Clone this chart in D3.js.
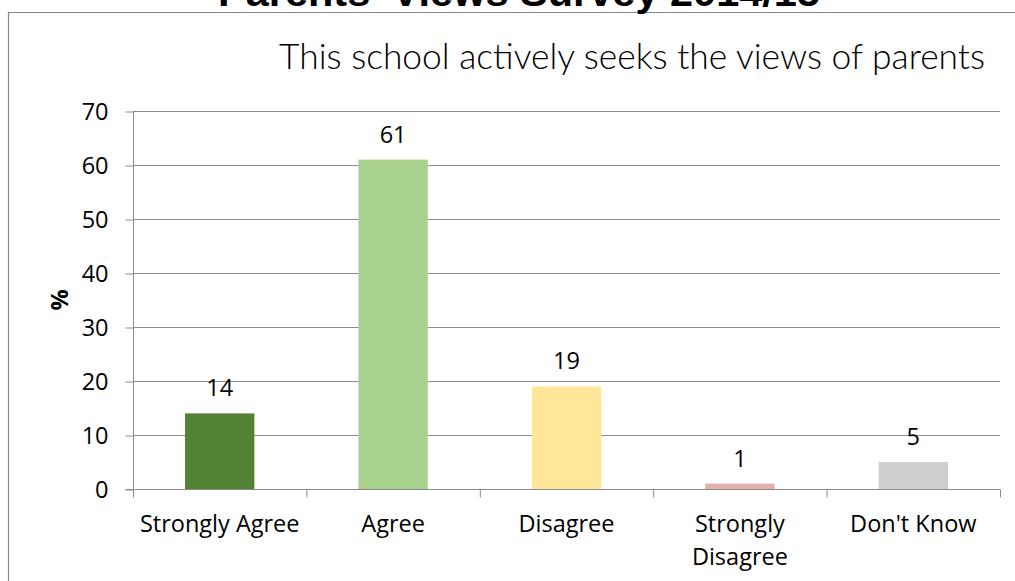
<!DOCTYPE html>
<html><head><meta charset="utf-8">
<script src="https://cdn.jsdelivr.net/npm/d3@7"></script>
<style>html,body{margin:0;padding:0;background:#fff;overflow:hidden}</style>
</head><body>
<svg id="c" width="1015" height="581"></svg>
<script>
const categories = ["Strongly Agree", "Agree", "Disagree", "Strongly Disagree", "Don't Know"];
const values = [14, 61, 19, 1, 5];
const colors = ["#548235", "#A9D18E", "#FFE699", "#E6AFAF", "#D0CECE"];
const yTicks = [0, 10, 20, 30, 40, 50, 60, 70];
const title = "Parents' Views Survey 2014/15";
const subtitle = "This school actively seeks the views of parents";
const yLabel = "%";

const svg = d3.select("#c");
const font = "Open Sans, Lato, sans-serif";
const fs = 23.5;

// outer border
svg.append("path").attr("d", "M8.5,600 V12.5 H1030").attr("fill", "none").attr("stroke", "#888").attr("stroke-width", 1.2);

svg.append("text").attr("x", 218).attr("y", 6).attr("font-family", "Liberation Sans, sans-serif")
  .attr("font-weight", "bold").attr("font-size", 38).attr("textLength", 602).attr("lengthAdjust", "spacingAndGlyphs")
  .attr("fill", "#000").text(title);

svg.append("text").attr("x", 279).attr("y", 69).attr("font-family", "Lato, Inter, sans-serif")
  .attr("font-weight", 300).attr("font-size", 36).attr("textLength", 706).attr("lengthAdjust", "spacingAndGlyphs")
  .attr("fill", "#000").text(subtitle);

const x = d3.scaleBand().domain(categories).range([133, 1000]).paddingInner(0).paddingOuter(0);
const y = d3.scaleLinear().domain([0, 70]).range([489, 111]);

// gridlines
svg.append("g").selectAll("line").data(yTicks.filter(d => d > 0)).join("line")
  .attr("x1", 133).attr("x2", 1000).attr("y1", d => Math.round(y(d)) + 0.5).attr("y2", d => Math.round(y(d)) + 0.5)
  .attr("stroke", "#8c8c8c").attr("stroke-width", 1);

// y axis
const yAxis = svg.append("g").attr("transform", "translate(133.5,0.5)")
  .call(d3.axisLeft(y).tickValues(yTicks).tickSize(8).tickPadding(17).tickFormat(d3.format("d")));
yAxis.select(".domain").attr("stroke", "#8c8c8c").attr("d", `M0,${y(70)}V${y(0)}`);
yAxis.selectAll(".tick line").attr("stroke", "#8c8c8c");
yAxis.selectAll("text").attr("font-family", font).attr("font-size", fs).attr("fill", "#000");

// bars
const bw = x.bandwidth() * 0.4;
svg.append("g").selectAll("rect").data(values).join("rect")
  .attr("x", (d, i) => x(categories[i]) + (x.bandwidth() - bw) / 2)
  .attr("width", bw)
  .attr("y", d => y(d)).attr("height", d => y(0) - y(d))
  .attr("fill", (d, i) => colors[i]);

// x axis
const xAxis = svg.append("g").attr("transform", `translate(0.5,${y(0) + 0.5})`);
xAxis.append("line").attr("x1", 125).attr("x2", 1000).attr("stroke", "#8c8c8c");
const bounds = categories.map(c => x(c)).concat([x.range()[1]]);
xAxis.selectAll("line.t").data(bounds).join("line").attr("class", "t")
  .attr("x1", d => d).attr("x2", d => d).attr("y1", 0).attr("y2", 8).attr("stroke", "#8c8c8c");

// category labels
svg.append("g").selectAll("text").data(categories).join("text")
  .attr("x", d => x(d) + x.bandwidth() / 2).attr("y", 532)
  .attr("text-anchor", "middle").attr("font-family", font).attr("font-size", fs).attr("fill", "#000")
  .each(function(d) {
    const t = d3.select(this);
    const lines = d === "Strongly Disagree" ? ["Strongly", "Disagree"] : [d];
    lines.forEach((l, k) => t.append("tspan").attr("x", x(d) + x.bandwidth() / 2).attr("dy", k ? 33 : 0).text(l));
  });

// value labels
svg.append("g").selectAll("text").data(values).join("text")
  .attr("x", (d, i) => x(categories[i]) + x.bandwidth() / 2)
  .attr("y", d => y(d) - 17)
  .attr("text-anchor", "middle").attr("font-family", font).attr("font-size", fs).attr("fill", "#000")
  .text(d => d);

// y label
svg.append("text").attr("transform", "translate(68,300) rotate(-90)").attr("text-anchor", "middle")
  .attr("font-family", font).attr("font-weight", "bold").attr("font-size", fs).text(yLabel);
</script>
</body></html>
